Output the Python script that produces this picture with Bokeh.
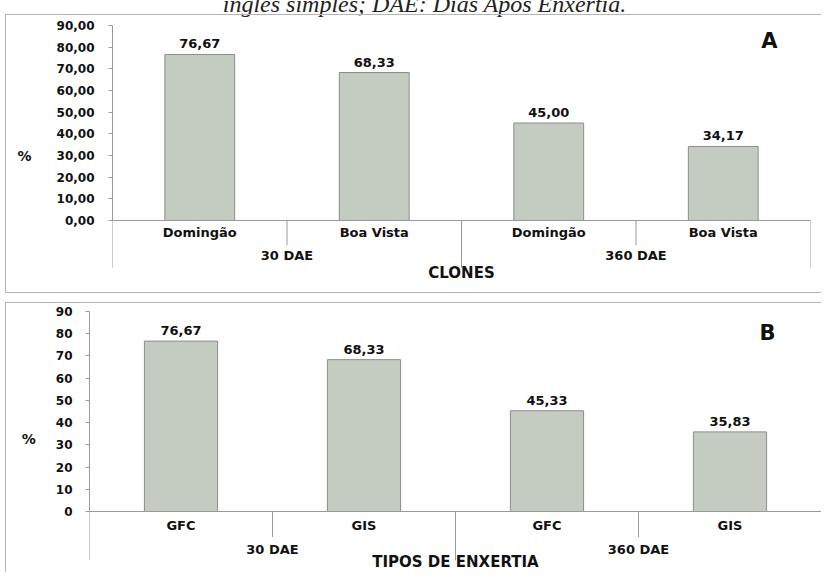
from bokeh.plotting import figure
from bokeh.models import FactorRange, FixedTicker, CustomJSTickFormatter, Label, Div, ColumnDataSource
from bokeh.embed import file_html
from bokeh.resources import INLINE
from bokeh.core.properties import value

# ---------------- data ----------------
header_text = "inglês simples; DAE: Dias Após Enxertia."

periods = ["30 DAE", "360 DAE"]

clones = ["Domingão", "Boa Vista"]
clone_pct = [76.67, 68.33, 45.00, 34.17]

grafts = ["GFC", "GIS"]
graft_pct = [76.67, 68.33, 45.33, 35.83]

y_ticks = [0, 10, 20, 30, 40, 50, 60, 70, 80, 90]

# ---------------- style ----------------
FONT = "DejaVu Sans"
BAR_FILL = "#c4ccc2"
BAR_LINE = "#8c8c8c"
INK = "#111111"
RULE = "#9a9a9a"
EDGE = "#b4b4b4"


def edge(pos, size):
    return f"linear-gradient({EDGE},{EDGE}) {pos}/{size} no-repeat"


def panel(subcats, pct, xlabel, letter, height, y_range, left, right, decimals,
          letter_xy, lab_standoff, ylab_standoff, x_standoff, xlab_standoff, margin, frame_bg):
    factors = [(g, s) for g in periods for s in subcats]
    labels = [f"{v:.2f}".replace(".", ",") for v in pct]
    src = ColumnDataSource(dict(x=factors, top=pct, label=labels))

    p = figure(x_range=FactorRange(*factors, group_padding=0, factor_padding=0),
               y_range=y_range, width=821, height=height,
               output_backend="svg", toolbar_location=None,
               min_border_left=left, min_border_right=right,
               min_border_top=3, min_border_bottom=0)
    p.margin = margin
    p.styles = {"background": frame_bg}
    p.background_fill_color = None
    p.border_fill_color = None
    p.outline_line_color = None
    p.xgrid.visible = False
    p.ygrid.visible = False

    p.vbar(x="x", top="top", bottom=0, width=0.4, source=src,
           fill_color=BAR_FILL, line_color=BAR_LINE, line_width=1)
    p.text(x="x", y="top", text="label", source=src,
           text_font=value(FONT), text_font_size="13px", text_font_style="bold",
           text_color=INK, text_align="center", text_baseline="bottom", y_offset=-6)

    # category separators (Excel-style)
    n = len(factors)
    k = len(subcats)
    xs = list(range(n + 1))
    depth = [-22 if i % k == 0 else -11.5 for i in xs]
    p.segment(x0=xs, y0=[0] * len(xs), x1=xs, y1=depth, line_color=RULE, line_width=1)

    # y axis
    ya = p.yaxis[0]
    ya.ticker = FixedTicker(ticks=y_ticks)
    ya.bounds = (y_ticks[0], y_ticks[-1])
    ya.formatter = CustomJSTickFormatter(code=f"return tick.toFixed({decimals}).replace('.', ',')")
    ya.axis_label = "%"
    ya.axis_label_orientation = "horizontal"
    ya.axis_label_text_font = FONT
    ya.axis_label_text_font_size = "14px"
    ya.axis_label_text_font_style = "bold"
    ya.axis_label_text_color = INK
    ya.axis_label_standoff = ylab_standoff
    ya.major_label_text_font = FONT
    ya.major_label_text_font_size = "12px"
    ya.major_label_text_font_style = "bold"
    ya.major_label_text_color = INK
    ya.major_label_standoff = lab_standoff
    ya.major_tick_out = 4
    ya.major_tick_in = 0
    ya.minor_tick_line_color = None
    ya.axis_line_color = RULE
    ya.major_tick_line_color = RULE

    # x axis (nested categories)
    xa = p.xaxis[0]
    xa.fixed_location = 0
    xa.axis_label = xlabel
    xa.axis_label_text_font = FONT
    xa.axis_label_text_font_size = "15px"
    xa.axis_label_text_font_style = "bold"
    xa.axis_label_text_color = INK
    xa.axis_label_standoff = xlab_standoff
    xa.major_label_text_font = FONT
    xa.major_label_text_font_size = "13px"
    xa.major_label_text_font_style = "bold"
    xa.major_label_text_color = INK
    xa.major_label_standoff = x_standoff
    xa.group_text_font = FONT
    xa.group_text_font_size = "13px"
    xa.group_text_font_style = "bold"
    xa.group_text_color = INK
    xa.separator_line_color = None
    xa.major_tick_line_color = None
    xa.major_tick_out = 0
    xa.major_tick_in = 0
    xa.axis_line_color = RULE

    p.add_layout(Label(x=letter_xy[0], y=letter_xy[1], text=letter,
                       text_font=FONT, text_font_size="21px", text_font_style="bold",
                       text_color=INK, text_align="center", text_baseline="middle"))
    return p


header = Div(
    text=('<div style="margin-top:-27px;position:relative;left:14px;width:821px;'
          'font-family:\'Liberation Serif\';font-style:italic;font-size:24px;line-height:24px;'
          'text-align:center;white-space:nowrap;color:#222">' + header_text + '</div>'),
    width=821, height=7, margin=(0, 0, 0, 0), styles={"overflow": "visible"})

bg_a = ", ".join([edge("5px 0", "1px 100%"), edge("5px 0", "100% 1px"), edge("5px 100%", "100% 1px")])
bg_b = ", ".join([edge("5px 0", "1px 100%"), edge("5px 0", "100% 1px")])

pa = panel(clones, clone_pct, "CLONES", "A", 279, (-33.75, 93.75), 112, 11, 2,
           (3.765, 83), 14, 22, 5, -3, (7, 0, 0, 0), bg_a)
pb = panel(grafts, graft_pct, "TIPOS DE ENXERTIA", "B", 270, (-27.45, 92.7), 89, 0, 0,
           (3.705, 80.3), 13, 17, 6, -7, (9, 0, 0, 0), bg_b)

open("out.html", "w").write(file_html([header, pa, pb], INLINE))
